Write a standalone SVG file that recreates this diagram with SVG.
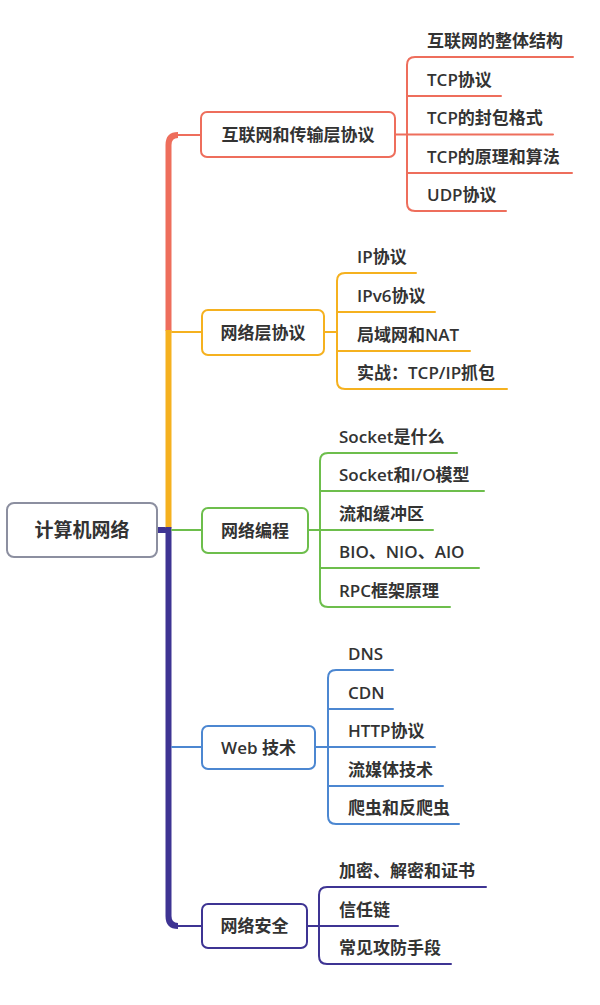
<svg xmlns="http://www.w3.org/2000/svg" width="600" height="1005" viewBox="0 0 600 1005">
<style>
text{font-family:"Open Sans","Noto Sans CJK SC",sans-serif;font-weight:600;fill:#333;font-size:17px}
.root{font-size:19px;font-weight:700}
.box{fill:#fff;stroke-width:2}
.ln{fill:none;stroke-width:2;stroke-linecap:round}
.tk{fill:none;stroke-width:6}
.r{stroke:#EE6E5C}.o{stroke:#F5B11F}.g{stroke:#6DBE4C}.b{stroke:#4C87D1}.p{stroke:#3E3493}
</style>
<rect width="600" height="1005" fill="#fff"/>
<g id="connectors">
<path class="tk p" d="M157 530 H168.5"/>
<path class="tk r" d="M168.5 331 V145 Q168.5 135 178 135"/>
<path class="ln r" d="M176 135 H201"/>
<path class="tk o" d="M168.5 330 V528"/>
<path class="ln o" d="M172 332 H202"/>
<path class="tk p" d="M168.5 527 V916 Q168.5 926 178 926"/>
<path class="ln p" d="M176 926 H202"/>
<path class="ln g" d="M172 530 H202"/>
<path class="ln b" d="M172 747 H202"/>
<!-- branch 1 -->
<path class="ln r" d="M395 134.5 H407"/>
<path class="ln r" d="M573 57 H415 Q407 57 407 65 V203 Q407 211 415 211 H506"/>
<path class="ln r" d="M407 96 H501 M407 134.5 H553 M407 173 H572"/>
<!-- branch 2 -->
<path class="ln o" d="M324 332 H337"/>
<path class="ln o" d="M416 273 H345 Q337 273 337 281 V381 Q337 389 345 389 H507"/>
<path class="ln o" d="M337 312 H435 M337 351 H470"/>
<!-- branch 3 -->
<path class="ln g" d="M308 530 H320"/>
<path class="ln g" d="M457 453 H328 Q320 453 320 461 V599 Q320 607 328 607 H450"/>
<path class="ln g" d="M320 491 H484 M320 530 H433 M320 568 H479"/>
<!-- branch 4 -->
<path class="ln b" d="M315 747 H328"/>
<path class="ln b" d="M393 670 H336 Q328 670 328 678 V816 Q328 824 336 824 H459"/>
<path class="ln b" d="M328 709 H393 M328 747 H435 M328 786 H443"/>
<!-- branch 5 -->
<path class="ln p" d="M307 926 H319"/>
<path class="ln p" d="M486 887 H327 Q319 887 319 895 V956 Q319 964 327 964 H451"/>
<path class="ln p" d="M319 926 H398"/>
</g>
<g id="root">
<rect class="box" x="7" y="503" width="150" height="54" rx="7" stroke="#8C8FA0"/>
<text class="root" x="82" y="537" text-anchor="middle">计算机网络</text>
</g>
<g id="n1">
<rect class="box r" x="201" y="112" width="194" height="45" rx="6"/>
<text x="298" y="141" text-anchor="middle">互联网和传输层协议</text>
</g>
<g id="n1c">
<text x="427" y="47">互联网的整体结构</text>
<text x="427" y="86">TCP协议</text>
<text x="427" y="124">TCP的封包格式</text>
<text x="427" y="163">TCP的原理和算法</text>
<text x="427" y="201">UDP协议</text>
</g>
<g id="n2">
<rect class="box o" x="202" y="310" width="122" height="45" rx="6"/>
<text x="263" y="338.5" text-anchor="middle">网络层协议</text>
</g>
<g id="n2c">
<text x="357" y="263">IP协议</text>
<text x="357" y="302">IPv6协议</text>
<text x="357" y="341">局域网和NAT</text>
<text x="357" y="379">实战：TCP/IP抓包</text>
</g>
<g id="n3">
<rect class="box g" x="202" y="508" width="106" height="45" rx="6"/>
<text x="255" y="536.5" text-anchor="middle">网络编程</text>
</g>
<g id="n3c">
<text x="339" y="443">Socket是什么</text>
<text x="339" y="481">Socket和I/O模型</text>
<text x="339" y="520">流和缓冲区</text>
<text x="339" y="558">BIO、NIO、AIO</text>
<text x="339" y="597">RPC框架原理</text>
</g>
<g id="n4">
<rect class="box b" x="202" y="726" width="113" height="43" rx="6"/>
<text x="258.5" y="753.5" text-anchor="middle">Web 技术</text>
</g>
<g id="n4c">
<text x="348" y="660">DNS</text>
<text x="348" y="699">CDN</text>
<text x="348" y="737">HTTP协议</text>
<text x="348" y="776">流媒体技术</text>
<text x="348" y="814">爬虫和反爬虫</text>
</g>
<g id="n5">
<rect class="box p" x="202" y="904" width="105" height="44" rx="6"/>
<text x="254.5" y="932" text-anchor="middle">网络安全</text>
</g>
<g id="n5c">
<text x="339" y="877">加密、解密和证书</text>
<text x="339" y="916">信任链</text>
<text x="339" y="954">常见攻防手段</text>
</g>
</svg>
